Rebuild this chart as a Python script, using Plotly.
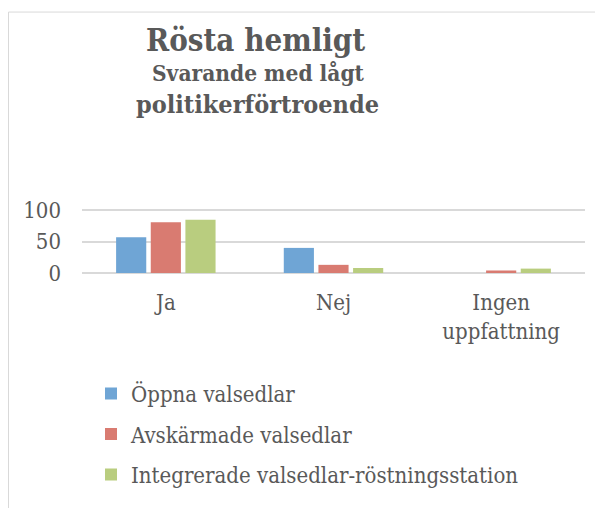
import plotly.graph_objects as go

categories = ["Ja", "Nej", "Ingen<br>uppfattning"]
series_names = ["Öppna valsedlar", "Avskärmade valsedlar", "Integrerade valsedlar-röstningsstation"]
oppna = [57, 40, 0]
avskarmade = [81, 13, 4]
integrerade = [85, 8, 7]
colors = ["#6fa5d5", "#d97b71", "#b9cd7f"]
y_ticks = [0, 50, 100]
y_max = 102

FONT = "DejaVu Serif Condensed, DejaVu Serif"
TXT = "#595959"

# page body has an 8px margin; figure is placed at (8, 8) in the window
OFF = 8
W, H = 603 - OFF, 508 - OFF
# plot area in window pixels: x 82..585, zero line at y 273, 100 at y 210
y0_px, y100_px = 273, 210
top_px = y0_px - (y0_px - y100_px) * y_max / 100
L, R = 82 - OFF, W - (585 - OFF)
T, B = top_px - OFF, H - (y0_px - OFF)
pw = W - L - R
ph = H - T - B

def py(p):  # window pixel y -> paper
    return (H - B - (p - OFF)) / ph

def px(p):  # window pixel x -> paper
    return ((p - OFF) - L) / pw

fig = go.Figure()
for i, (name, vals) in enumerate(zip(series_names, [oppna, avskarmade, integrerade])):
    fig.add_trace(go.Bar(x=categories, y=vals, name=name, marker_color=colors[i],
                         marker_line_width=0, legendgroup=f"g{i}"))

fig.update_layout(
    width=W, height=H,
    margin=dict(l=L, r=R, t=T, b=B, pad=0, autoexpand=False),
    paper_bgcolor="white", plot_bgcolor="white",
    barmode="group", bargap=0.38, bargroupgap=0.13,
    font=dict(family=FONT, color=TXT, size=22),
    showlegend=True,
    legend=dict(x=px(91), y=py(373),
                xanchor="left", yanchor="top", font=dict(size=22, color=TXT, family=FONT),
                tracegroupgap=9, bgcolor="rgba(0,0,0,0)", traceorder="grouped"),
    xaxis=dict(showgrid=False, showline=False, ticks="", ticklabelstandoff=14, automargin=False,
               tickangle=0, tickfont=dict(size=22, color=TXT, family=FONT)),
    yaxis=dict(range=[0, y_max], tickvals=y_ticks, showgrid=True, gridcolor="#d9d9d9", gridwidth=1.5,
               zeroline=True, zerolinecolor="#d9d9d9", zerolinewidth=1.5, showline=False, automargin=False,
               ticks="", ticklabelstandoff=20, tickfont=dict(size=22, color=TXT, family=FONT)),
    shapes=[dict(type="rect", xref="paper", yref="paper", x0=px(8.5), x1=px(640),
                 y0=py(560), y1=py(11), line=dict(color="#d9d9d9", width=1), fillcolor="rgba(0,0,0,0)",
                 layer="below")],
    annotations=[
        dict(text="<b>Rösta hemligt</b>", xref="paper", yref="paper", x=px(255), y=py(39),
             xanchor="center", yanchor="middle", showarrow=False, font=dict(size=31, color=TXT, family=FONT)),
        dict(text="<b>Svarande med lågt</b>", xref="paper", yref="paper", x=px(258), y=py(72),
             xanchor="center", yanchor="middle", showarrow=False, font=dict(size=22.5, color=TXT, family=FONT)),
        dict(text="<b>politikerförtroende</b>", xref="paper", yref="paper", x=px(257), y=py(104),
             xanchor="center", yanchor="middle", showarrow=False, font=dict(size=25, color=TXT, family=FONT)),
    ],
)

fig.write_html("out.html")
